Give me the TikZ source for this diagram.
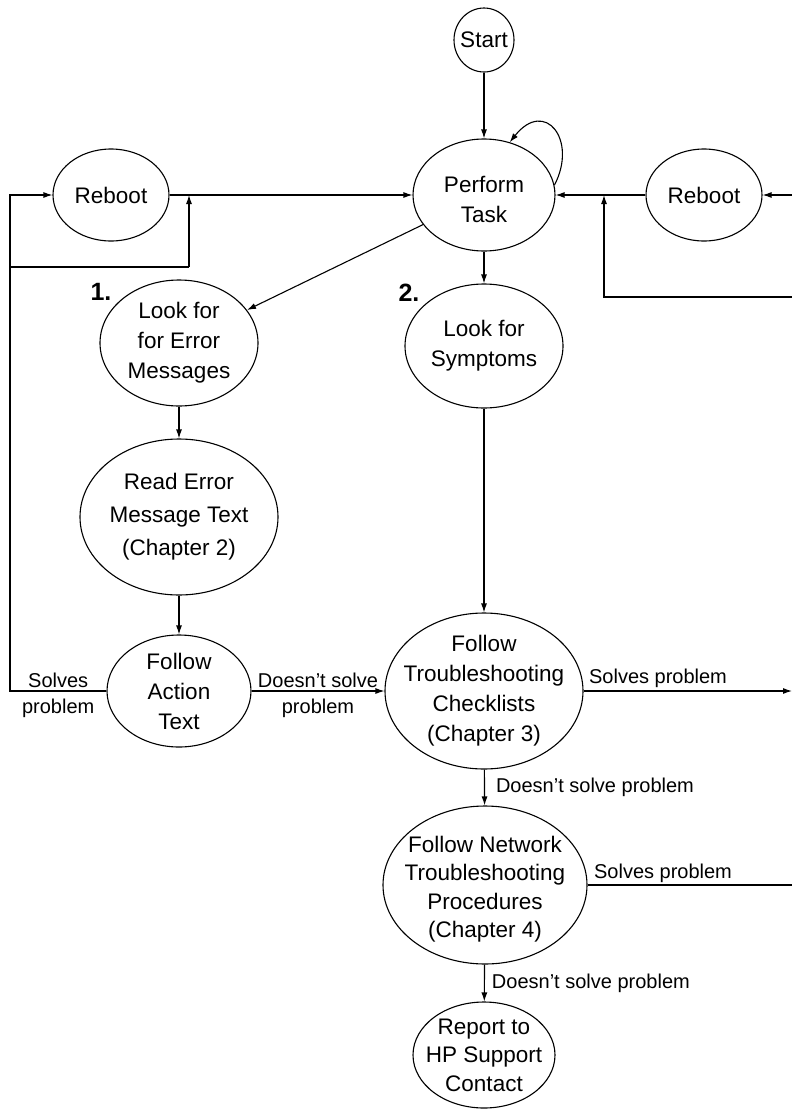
\documentclass[tikz,border=0pt]{standalone}
\usepackage{fontspec}
\setmainfont{Liberation Sans}
\usetikzlibrary{arrows.meta,shapes.geometric,calc}
\begin{document}
\begin{tikzpicture}[x=1pt,y=-1pt,
  state/.style={draw,ellipse,line width=1.1pt,inner sep=0pt},
  txt/.style={align=center,inner sep=0pt,font=\fontsize{22.5}{30}\selectfont},
  lbl/.style={font=\fontsize{20}{24}\selectfont,inner sep=1pt},
  num/.style={font=\fontsize{25}{28}\selectfont\bfseries,inner sep=0pt},
  conn/.style={line width=1.1pt},
  arr/.style={conn,-{Latex[length=9pt,width=6pt]}}]
\useasboundingbox (0,0) rectangle (792,1114);

% nodes
\node[state,minimum width=60,minimum height=64,label={[txt]center:Start}] (st) at (484,40) {};
\node[state,minimum width=142,minimum height=112,label={[txt,yshift=-4pt]center:Perform\\Task}] (pt) at (484,195) {};
\node[state,minimum width=116,minimum height=92,label={[txt]center:Reboot}] (rl) at (111,195) {};
\node[state,minimum width=116,minimum height=92,label={[txt]center:Reboot}] (rr) at (704,195) {};
\node[state,minimum width=158,minimum height=126,label={[txt]center:Look for\\for Error\\Messages}] (le) at (179,343) {};
\node[state,minimum width=158,minimum height=124,label={[txt]center:Look for\\Symptoms}] (sy) at (484,346) {};
\node[state,minimum width=198,minimum height=156,label={[txt,font=\fontsize{22.5}{33}\selectfont]center:Read Error\\Message Text\\(Chapter 2)}] (re) at (179,517) {};
\node[state,minimum width=144,minimum height=112,label={[txt]center:Follow\\Action\\Text}] (fa) at (179,691) {};
\node[state,minimum width=198,minimum height=156,label={[txt]center:Follow\\Troubleshooting\\Checklists\\(Chapter 3)}] (fts) at (484,691) {};
\node[state,minimum width=204,minimum height=158,label={[txt,font=\fontsize{22.5}{28.5}\selectfont,yshift=-4pt]center:Follow Network\\Troubleshooting\\Procedures\\(Chapter 4)}] (net) at (485,885) {};
\node[state,minimum width=142,minimum height=106,label={[txt,font=\fontsize{22.5}{28.5}\selectfont]center:Report to\\HP Support\\Contact}] (rep) at (484,1055) {};

\node[num] (n1) at (101,292) {1.};
\node[num] (n2) at (409,293) {2.};

% helper coordinates
\coordinate (cL1) at (10,691);
\coordinate (cL2) at (10,195);
\coordinate (cL3) at (10,267);
\coordinate (cL4) at (189,267);
\coordinate (cL5) at (189,195);
\coordinate (cR1) at (792,195);
\coordinate (cR2) at (792,297);
\coordinate (cR3) at (604,297);
\coordinate (cR4) at (604,195);
\coordinate (cR5) at (792,691);
\coordinate (cR6) at (792,885);

% connectors
\draw[arr] (st) -- (pt);
\draw[arr] (pt.8) .. controls (578,140) and (545,98) .. (pt.64);
\draw[arr] (rl.east) -- (pt.west);
\draw[arr] (rr.west) -- (pt.east);
\draw[arr] (cR1) -- (rr.east);
\draw[arr] (cR2) -- (cR3) -- (cR4);
\draw[arr] (fa.west) -- node[lbl,midway,above,yshift=2pt]{Solves} node[lbl,midway,below,yshift=-6pt]{problem} (cL1) -- (cL2) -- (rl.west);
\draw[conn] (cL3) -- (cL4);
\draw[arr] (cL4) -- (cL5);
\draw[arr] (pt) -- (le);
\draw[arr] (pt) -- (sy);
\draw[arr] (le) -- (re);
\draw[arr] (re) -- (fa);
\draw[arr] (sy) -- (fts);
\draw[arr] (fa.east) -- node[lbl,midway,above,yshift=2pt]{Doesn't solve} node[lbl,midway,below,yshift=-6pt]{problem} (fts.west);
\draw[arr] (fts.east) -- node[lbl,pos=0,anchor=south west,xshift=4pt,yshift=2pt]{Solves problem} (cR5);
\draw[arr] (fts) -- node[lbl,midway,right,xshift=10pt]{Doesn't solve problem} (net);
\draw[conn] (net.east) -- node[lbl,pos=0,anchor=south west,xshift=5pt,yshift=1pt]{Solves problem} (cR6);
\draw[arr] (net) -- node[lbl,midway,right,xshift=6pt]{Doesn't solve problem} (rep);
\end{tikzpicture}
\end{document}
